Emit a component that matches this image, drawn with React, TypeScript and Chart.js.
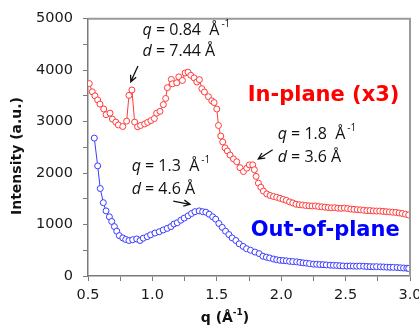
import React, { useEffect, useRef } from "react";
import { Chart, registerables } from "chart.js";
Chart.register(...registerables);

// In-plane (x3) scattering profile
const inPlaneQ = [
  0.51, 0.533, 0.554, 0.575, 0.593, 0.622, 0.64, 0.671, 0.689, 0.716, 0.736, 0.77, 0.8, 0.818, 0.841,
  0.862, 0.885, 0.908, 0.94, 0.963, 0.989, 1.015, 1.033, 1.059, 1.085, 1.103, 1.116, 1.147, 1.155,
  1.189, 1.205, 1.233, 1.254, 1.277, 1.298, 1.324, 1.345, 1.365, 1.384, 1.404, 1.435, 1.461, 1.479,
  1.5, 1.513, 1.531, 1.546, 1.564, 1.582, 1.603, 1.629, 1.655, 1.68, 1.707, 1.733, 1.753, 1.779,
  1.792, 1.805, 1.823, 1.842, 1.862, 1.888, 1.914, 1.94, 1.965, 1.99, 2.015, 2.04, 2.065, 2.09,
  2.115, 2.14, 2.165, 2.19, 2.215, 2.24, 2.265, 2.29, 2.315, 2.34, 2.365, 2.39, 2.415, 2.44, 2.465,
  2.49, 2.515, 2.54, 2.565, 2.59, 2.615, 2.64, 2.665, 2.69, 2.715, 2.74, 2.765, 2.79, 2.815, 2.84,
  2.865, 2.89, 2.915, 2.94, 2.965, 2.99,
];
const inPlaneI = [
  3740, 3580, 3500, 3420, 3340, 3245, 3135, 3165, 3050, 2990, 2935, 2905, 3010, 3510, 3615,
  2990, 2900, 2925, 2955, 2985, 3020, 3060, 3165, 3200, 3330, 3450, 3660, 3820, 3735,
  3755, 3870, 3800, 3945, 3960, 3900, 3850, 3770, 3815, 3640, 3575, 3485, 3405, 3370,
  3245, 2925, 2720, 2605, 2490, 2430, 2350, 2275, 2220, 2105, 2030, 2095, 2160, 2160,
  2065, 1935, 1805, 1725, 1650, 1595, 1565, 1545, 1530, 1510, 1490, 1470, 1440, 1420,
  1395, 1385, 1380, 1370, 1365, 1360, 1362, 1350, 1345, 1338, 1330, 1325, 1328, 1318, 1315,
  1320, 1310, 1300, 1295, 1290, 1285, 1278, 1270, 1272, 1265, 1262, 1262, 1255, 1250, 1245,
  1240, 1235, 1225, 1215, 1200, 1185,
];

// Out-of-plane scattering profile
const outPlaneQ = [
  0.549, 0.575, 0.595, 0.619, 0.64, 0.666, 0.684, 0.705, 0.723, 0.743, 0.77, 0.793, 0.818, 0.847,
  0.878, 0.904, 0.929, 0.96, 0.986, 1.02, 1.053, 1.084, 1.115, 1.144, 1.167, 1.193, 1.221, 1.247,
  1.278, 1.304, 1.33, 1.363, 1.39, 1.415, 1.441, 1.468, 1.491, 1.516, 1.542, 1.568, 1.594, 1.619,
  1.648, 1.674, 1.705, 1.731, 1.762, 1.796, 1.829, 1.858, 1.885, 1.91, 1.94, 1.965, 1.99, 2.015,
  2.04, 2.065, 2.09, 2.12, 2.145, 2.17, 2.195, 2.22, 2.25, 2.275, 2.3, 2.325, 2.35, 2.38, 2.405,
  2.43, 2.455, 2.48, 2.51, 2.535, 2.56, 2.585, 2.61, 2.64, 2.665, 2.69, 2.715, 2.74, 2.77, 2.795,
  2.82, 2.845, 2.87, 2.9, 2.925, 2.95, 2.975, 2.99,
];
const outPlaneI = [
  2680, 2140, 1700, 1425, 1265, 1150, 1060, 960, 870, 785, 740, 710, 690, 705,
  720, 690, 735, 765, 800, 835, 860, 895, 925, 960, 1010, 1035, 1085, 1125,
  1170, 1215, 1250, 1265, 1250, 1240, 1200, 1150, 1105, 1020, 945, 870, 805, 740,
  690, 625, 575, 530, 500, 465, 435, 385, 365, 350, 330, 315, 305, 300,
  295, 285, 280, 275, 265, 255, 250, 240, 230, 228, 222, 220, 215, 210, 208,
  205, 200, 195, 192, 195, 192, 190, 193, 190, 185, 182, 180, 182, 178, 175,
  172, 170, 168, 165, 160, 155, 152, 147,
];

const seriesNames = ["In-plane (x3)", "Out-of-plane"];
const xTitle = "q (Å";
const yTitle = "Intensity (a.u.)";

// peak annotations (label values)
const peakQ = ["0.84", "1.8", "1.3"];
const peakD = ["7.44", "3.6", "4.6"];

const RED = "#ff3b3b";
const BLUE = "#3b3bff";

export default function App() {
  const ref = useRef<HTMLCanvasElement | null>(null);

  useEffect(() => {
    if (!ref.current) return;
    document.body.style.margin = "0";

    const annotations = [
      { text: [0.924, 4680, 4266], tail: [0.888, 4080], head: [0.832, 3774] },
      { text: [1.973, 2669, 2222], tail: [1.934, 2452], head: [1.822, 2274] },
      { text: [0.839, 2044, 1584], tail: [1.162, 1456], head: [1.292, 1393] },
    ];

    const overlay = {
      id: "overlay",
      afterDraw(chart: any) {
        const ctx = chart.ctx as CanvasRenderingContext2D;
        const xs = chart.scales.x;
        const ys = chart.scales.y;
        const area = chart.chartArea;
        ctx.save();
        // frame (top & right)
        ctx.strokeStyle = "#9a9a9a";
        ctx.lineWidth = 2;
        ctx.beginPath();
        ctx.moveTo(area.left, area.top);
        ctx.lineTo(area.right, area.top);
        ctx.lineTo(area.right, area.bottom);
        ctx.stroke();

        // annotations
        ctx.fillStyle = "#111";
        ctx.textBaseline = "alphabetic";
        ctx.textAlign = "left";
        const drawLine = (x: number, y: number, ital: string, rest: string, sup: boolean) => {
          ctx.font = 'italic 16px "Open Sans"';
          ctx.fillText(ital, x, y);
          const w1 = ctx.measureText(ital).width;
          ctx.font = '16px "Open Sans"';
          ctx.fillText(rest, x + w1, y);
          const w2 = ctx.measureText(rest).width;
          if (sup) {
            ctx.font = '10px "Open Sans"';
            ctx.fillText("-1", x + w1 + w2 + 2, y - 8);
          }
        };
        annotations.forEach((a, i) => {
          const tx = xs.getPixelForValue(a.text[0]);
          const tyq = ys.getPixelForValue(a.text[1]);
          const tyd = ys.getPixelForValue(a.text[2]);
          drawLine(tx, tyq, "q", " = " + peakQ[i] + "  Å", true);
          drawLine(tx, tyd, "d", " = " + peakD[i] + " Å", false);
          const x1 = xs.getPixelForValue(a.tail[0]);
          const y1 = ys.getPixelForValue(a.tail[1]);
          const x2 = xs.getPixelForValue(a.head[0]);
          const y2 = ys.getPixelForValue(a.head[1]);
          ctx.strokeStyle = "#111";
          ctx.lineWidth = 1.3;
          ctx.beginPath();
          ctx.moveTo(x1, y1);
          ctx.lineTo(x2, y2);
          const ang = Math.atan2(y2 - y1, x2 - x1);
          const L = 7;
          ctx.moveTo(x2 - L * Math.cos(ang - 0.45), y2 - L * Math.sin(ang - 0.45));
          ctx.lineTo(x2, y2);
          ctx.lineTo(x2 - L * Math.cos(ang + 0.45), y2 - L * Math.sin(ang + 0.45));
          ctx.stroke();
        });

        // series labels
        ctx.font = 'bold 21px "DejaVu Sans"';
        ctx.fillStyle = "#ff0000";
        ctx.fillText(seriesNames[0], xs.getPixelForValue(1.74), ys.getPixelForValue(3410));
        ctx.fillStyle = "#0000ff";
        ctx.fillText(seriesNames[1], xs.getPixelForValue(1.763), ys.getPixelForValue(785));

        // axis titles
        ctx.fillStyle = "#111";
        ctx.font = 'bold 14px "DejaVu Sans"';
        const wT = ctx.measureText(xTitle).width;
        ctx.font = 'bold 9px "DejaVu Sans"';
        const wS = ctx.measureText("-1").width;
        ctx.font = 'bold 14px "DejaVu Sans"';
        const wP = ctx.measureText(")").width;
        const total = wT + wS + wP;
        const cx = 225;
        const by = 322;
        let x0 = cx - total / 2;
        ctx.fillText(xTitle, x0, by);
        ctx.font = 'bold 9px "DejaVu Sans"';
        ctx.fillText("-1", x0 + wT, by - 7);
        ctx.font = 'bold 14px "DejaVu Sans"';
        ctx.fillText(")", x0 + wT + wS, by);

        ctx.translate(17, 156);
        ctx.rotate(-Math.PI / 2);
        ctx.textAlign = "center";
        ctx.textBaseline = "middle";
        ctx.fillText(yTitle, 0, 0);
        ctx.restore();
      },
    };

    const chart = new Chart(ref.current, {
      type: "line",
      data: {
        datasets: [
          {
            label: seriesNames[0],
            data: inPlaneQ.map((q, i) => ({ x: q, y: inPlaneI[i] })),
            borderColor: RED,
            borderWidth: 1,
            pointRadius: 3,
            pointBorderWidth: 1,
            pointBorderColor: RED,
            pointBackgroundColor: "#ffffff",
            tension: 0,
          },
          {
            label: seriesNames[1],
            data: outPlaneQ.map((q, i) => ({ x: q, y: outPlaneI[i] })),
            borderColor: BLUE,
            borderWidth: 1,
            pointRadius: 3,
            pointBorderWidth: 1,
            pointBorderColor: BLUE,
            pointBackgroundColor: "#ffffff",
            tension: 0,
          },
        ],
      },
      options: {
        responsive: false,
        animation: false,
        layout: { padding: { left: 0, top: 15, right: 9, bottom: 0 } },
        plugins: { legend: { display: false }, tooltip: { enabled: false } },
        scales: {
          x: {
            type: "linear",
            min: 0.5,
            max: 3.0,
            afterFit: (s: any) => {
              s.height = 54;
              s.paddingLeft = 0;
              s.paddingRight = 0;
            },
            ticks: {
              stepSize: 0.25,
              autoSkip: false,
              maxRotation: 0,
              padding: 6,
              color: "#1a1a1a",
              font: { family: "DejaVu Sans", size: 14.5 },
              callback: (v: any) => {
                const n = Number(v);
                return Math.abs(n * 2 - Math.round(n * 2)) < 1e-6 ? n.toFixed(1) : "";
              },
            },
            grid: { drawOnChartArea: false, tickLength: 5, color: "#7a7a7a", tickColor: "#7a7a7a" },
            border: { color: "#7a7a7a", width: 1.5 },
          },
          y: {
            min: 0,
            max: 5000,
            afterFit: (s: any) => {
              s.width = 88;
            },
            ticks: {
              stepSize: 500,
              autoSkip: false,
              padding: 10,
              color: "#1a1a1a",
              font: { family: "DejaVu Sans", size: 14.5 },
              callback: (v: any) => {
                const n = Number(v);
                return n % 1000 === 0 ? String(n) : "";
              },
            },
            grid: { drawOnChartArea: false, tickLength: 5, color: "#7a7a7a", tickColor: "#7a7a7a" },
            border: { color: "#7a7a7a", width: 1.5 },
          },
        },
      },
      plugins: [overlay],
    });
    return () => chart.destroy();
  }, []);

  return (
    <div style={{ position: "absolute", left: 0, top: 0, width: 419, height: 330, background: "#fff" }}>
      <canvas ref={ref} width={419} height={330} style={{ display: "block" }} />
    </div>
  );
}
